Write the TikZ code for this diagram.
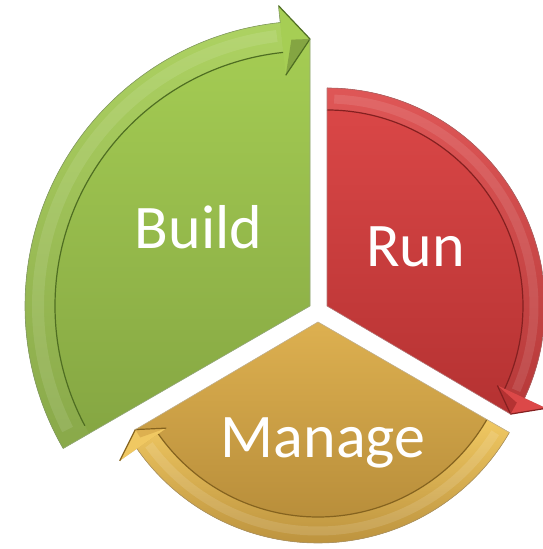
\documentclass[tikz,border=0pt]{standalone}
\usepackage{fontspec}
\setmainfont{Carlito}
\usetikzlibrary{calc}
\definecolor{gT}{HTML}{A6CE54}
\definecolor{gB}{HTML}{84A542}
\definecolor{gL}{HTML}{4F6E22}
\definecolor{rT}{HTML}{DC4848}
\definecolor{rB}{HTML}{B53232}
\definecolor{rL}{HTML}{842020}
\definecolor{oT}{HTML}{DDB050}
\definecolor{oB}{HTML}{B48A38}
\definecolor{oL}{HTML}{85631F}
\definecolor{oH}{HTML}{F0C862}
\tikzset{
  edgeline/.style={line width=1.2pt,line join=round},
  lbl/.style={text=white,font=\fontsize{62}{62}\selectfont,anchor=base,inner sep=0pt},
}
\begin{document}
\begin{tikzpicture}[x=1pt,y=1pt]
\useasboundingbox (0,0) rectangle (543,549);
\coordinate (gc) at (310,243);
\coordinate (rc) at (327,243);
\coordinate (oc) at (318,227);

% ---------- shadows ----------
\foreach \d/\o in {5/0.05,3/0.07,1.5/0.08}{
  \fill[black,opacity=\o,shift={(\d,-\d)}] (gc) -- ($(gc)+(210:285)$) arc[start angle=210,end angle=96,radius=285] -- ($(gc)+(96:302)$) -- ($(gc)+(90:267)$) -- cycle;
  \fill[black,opacity=\o,shift={(\d,-\d)}] (rc) -- ($(rc)+(90:218)$) arc[start angle=90,end angle=-25,radius=218] -- ($(rc)+(-25:242)$) -- ($(rc)+(-30.5:213)$) -- cycle;
  \fill[black,opacity=\o,shift={(\d,-\d)}] (oc) -- ($(oc)+(-30:221)$) arc[start angle=-30,end angle=-145,radius=221] -- ($(oc)+(-145:242)$) -- ($(oc)+(-149.5:212)$) -- cycle;
}

% ---------- Build (green) ----------
\shade[top color=gT,bottom color=gB] (gc) -- ($(gc)+(210:285)$) arc[start angle=210,end angle=96,radius=285] -- ($(gc)+(90:267)$) -- cycle;
\shade[top color=gT!92!white,bottom color=gB!96!white] ($(gc)+(210:285)$) arc[start angle=210,end angle=96,radius=285] -- ($(gc)+(96:255)$) arc[start angle=96,end angle=210,radius=255] -- cycle;
\draw[white,opacity=0.10,line width=12pt] ($(gc)+(207:272)$) arc[start angle=207,end angle=97,radius=272];
\draw[gL,edgeline] ($(gc)+(208:255)$) arc[start angle=208,end angle=96,radius=255];
\fill[gT] ($(gc)+(96:232)$) -- ($(gc)+(96:302)$) -- ($(gc)+(90:267)$) -- cycle;
\fill[gB] ($(gc)+(96:232)$) -- ($(gc)+(94:267)$) -- ($(gc)+(90:267)$) -- cycle;
\draw[gL,edgeline] ($(gc)+(96:232)$) -- ($(gc)+(90:267)$) -- ($(gc)+(96:302)$);
\draw[gL!70,line width=0.6pt] ($(gc)+(210:285)$) arc[start angle=210,end angle=96,radius=285] -- ($(gc)+(96:302)$);
\draw[gL!60,line width=0.6pt] ($(gc)+(210:285)$) -- (gc) -- ($(gc)+(90:267)$);

% ---------- Run (red) ----------
\shade[top color=rT,bottom color=rB] (rc) -- ($(rc)+(90:218)$) arc[start angle=90,end angle=-25,radius=218] -- ($(rc)+(-30.5:213)$) -- cycle;
\shade[top color=rT!92!white,bottom color=rB!96!white] ($(rc)+(90:218)$) arc[start angle=90,end angle=-25,radius=218] -- ($(rc)+(-25:196)$) arc[start angle=-25,end angle=90,radius=196] -- cycle;
\draw[white,opacity=0.10,line width=9pt] ($(rc)+(88:207)$) arc[start angle=88,end angle=-24,radius=207];
\draw[rL,edgeline] ($(rc)+(90:196)$) arc[start angle=90,end angle=-25,radius=196];
\fill[rT] ($(rc)+(-25:188)$) -- ($(rc)+(-25:242)$) -- ($(rc)+(-30.5:213)$) -- cycle;
\fill[rB] ($(rc)+(-25:188)$) -- ($(rc)+(-27:213)$) -- ($(rc)+(-30.5:213)$) -- cycle;
\draw[rL,edgeline] ($(rc)+(-25:188)$) -- ($(rc)+(-30.5:213)$) -- ($(rc)+(-25:242)$);
\draw[rL!70,line width=0.6pt] ($(rc)+(90:218)$) arc[start angle=90,end angle=-25,radius=218];
\draw[rL!60,line width=0.6pt] ($(rc)+(90:218)$) -- (rc) -- ($(rc)+(-30.5:213)$);

% ---------- Manage (gold) ----------
\shade[top color=oT,bottom color=oB] (oc) -- ($(oc)+(-30:221)$) arc[start angle=-30,end angle=-145,radius=221] -- ($(oc)+(-149.5:212)$) -- cycle;
\shade[top color=oH,bottom color=oB!85!oH] ($(oc)+(-30:221)$) arc[start angle=-30,end angle=-145,radius=221] -- ($(oc)+(-145:195)$) arc[start angle=-145,end angle=-30,radius=195] -- cycle;
\draw[white,opacity=0.12,line width=9pt] ($(oc)+(-32:209)$) arc[start angle=-32,end angle=-144,radius=209];
\draw[oL,edgeline] ($(oc)+(-30:195)$) arc[start angle=-30,end angle=-145,radius=195];
\fill[oH] ($(oc)+(-145:185)$) -- ($(oc)+(-145:242)$) -- ($(oc)+(-149.5:212)$) -- cycle;
\fill[oT] ($(oc)+(-145:185)$) -- ($(oc)+(-147:212)$) -- ($(oc)+(-149.5:212)$) -- cycle;
\draw[oL,edgeline] ($(oc)+(-145:185)$) -- ($(oc)+(-149.5:212)$) -- ($(oc)+(-145:242)$);
\draw[oL!70,line width=0.6pt] ($(oc)+(-30:221)$) arc[start angle=-30,end angle=-145,radius=221];
\draw[oL!50,line width=0.6pt] ($(oc)+(-30:221)$) -- (oc) -- ($(oc)+(-149.5:212)$);

% ---------- labels ----------
\node[lbl] (build) at (198.5,300) {Build};
\node[lbl] (run) at (415.5,282.4) {Run};
\node[lbl] (manage) at (323,91) {Manage};
\end{tikzpicture}
\end{document}
